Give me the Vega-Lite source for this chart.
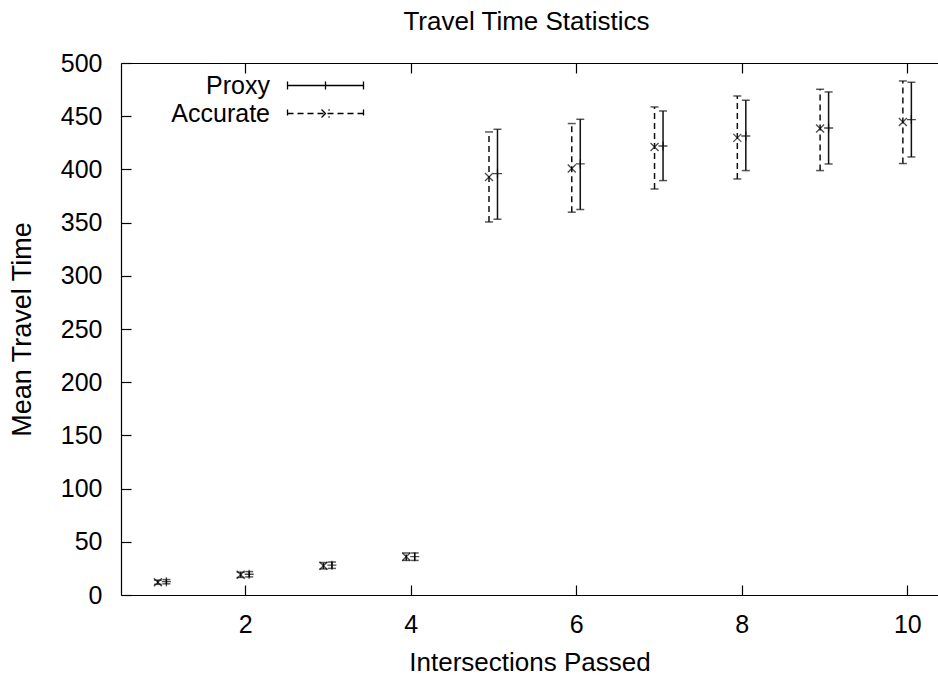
{
  "$schema": "https://vega.github.io/schema/vega-lite/v6.json",
  "width": 817,
  "height": 532,
  "autosize": "none",
  "padding": {"left": 121, "top": 63, "right": 0, "bottom": 82},
  "background": "white",
  "title": {"text": "Travel Time Statistics", "font": "Liberation Sans", "fontSize": 26, "fontWeight": "normal", "color": "black", "offset": 16, "dx": -3},
  "config": {
    "view": {"stroke": null},
    "axis": {
      "labelFont": "Liberation Sans", "labelFontSize": 25, "labelColor": "black",
      "titleFont": "Liberation Sans", "titleFontSize": 26, "titleFontWeight": "normal", "titleColor": "black",
      "domainColor": "black", "domainWidth": 1.2, "tickColor": "black", "tickWidth": 1.2, "tickSize": -10, "grid": false
    },
    "axisX": {"tickCount": 5, "labelPadding": 27, "titlePadding": 12},
    "axisY": {"tickCount": 10, "labelPadding": 29, "titlePadding": 24, "titleFontSize": 27}
  },
  "resolve": {"axis": {"x": "independent"}},
  "data": {"values": [
    {"n": 1, "series": "Accurate", "mean": 12, "lo": 10, "hi": 14},
    {"n": 2, "series": "Accurate", "mean": 19, "lo": 16.5, "hi": 21.5},
    {"n": 3, "series": "Accurate", "mean": 27.5, "lo": 24.5, "hi": 30.5},
    {"n": 4, "series": "Accurate", "mean": 36, "lo": 32.5, "hi": 39.5},
    {"n": 5, "series": "Accurate", "mean": 392.9, "lo": 350.6, "hi": 435.2},
    {"n": 6, "series": "Accurate", "mean": 400.8, "lo": 359.8, "hi": 443.1},
    {"n": 7, "series": "Accurate", "mean": 421.1, "lo": 381.6, "hi": 458.7},
    {"n": 8, "series": "Accurate", "mean": 429.6, "lo": 391, "hi": 469},
    {"n": 9, "series": "Accurate", "mean": 438.4, "lo": 398.9, "hi": 475.3},
    {"n": 10, "series": "Accurate", "mean": 444.6, "lo": 405.5, "hi": 483.1},
    {"n": 1, "series": "Proxy", "mean": 12.5, "lo": 10.5, "hi": 14.5},
    {"n": 2, "series": "Proxy", "mean": 19.5, "lo": 17, "hi": 22},
    {"n": 3, "series": "Proxy", "mean": 28, "lo": 25, "hi": 31},
    {"n": 4, "series": "Proxy", "mean": 36, "lo": 32.5, "hi": 39.5},
    {"n": 5, "series": "Proxy", "mean": 396.1, "lo": 353.2, "hi": 437.7},
    {"n": 6, "series": "Proxy", "mean": 405.1, "lo": 362.3, "hi": 447.1},
    {"n": 7, "series": "Proxy", "mean": 422, "lo": 389.5, "hi": 454.9},
    {"n": 8, "series": "Proxy", "mean": 431.4, "lo": 398.9, "hi": 465},
    {"n": 9, "series": "Proxy", "mean": 438.9, "lo": 405.1, "hi": 472.8},
    {"n": 10, "series": "Proxy", "mean": 446.8, "lo": 411.7, "hi": 481.9}
  ]},
  "layer": [
    {
      "transform": [{"filter": "datum.series === 'Accurate'"}],
      "mark": {"type": "rule", "xOffset": -4.5, "strokeWidth": 1.5, "color": "#111"},
      "encoding": {
        "x": {"field": "n", "type": "quantitative", "title": "Intersections Passed", "scale": {"domain": [0.5, 10.37], "nice": false, "zero": false}},
        "y": {"field": "lo", "type": "quantitative", "title": "Mean Travel Time", "scale": {"domain": [0, 500], "nice": false}},
        "y2": {"field": "hi"},
        "strokeDash": {"field": "series", "type": "nominal", "scale": {"domain": ["Proxy", "Accurate"], "range": [[1, 0], [6, 4]]},
          "legend": {"orient": "none", "legendX": 124, "legendY": 10, "title": null, "labelAlign": "right", "labelOffset": 0,
            "labelFont": "Liberation Sans", "labelFontSize": 25, "labelColor": "black", "symbolSize": 100, "rowPadding": 2,
            "symbolStrokeWidth": 1.3, "symbolStrokeColor": "black", "symbolFillColor": "transparent", "symbolType": "M6,0L21.2,0",
            "encode": {"symbols": {"update": {"shape": {"signal": "datum.value === 'Proxy' ? 'M6,0L21.2,0M6,-0.8L6,0.8M21.2,-0.8L21.2,0.8M13.6,-0.8L13.6,0.8' : 'M6,0L21.2,0M6,-0.8L6,0.8M21.2,-0.8L21.2,0.8M12.8,-0.8L14.4,0.8M12.8,0.8L14.4,-0.8'"}, "stroke": {"value": "black"}, "fill": {"value": "transparent"}}}}}}
      }
    },
    {
      "transform": [{"filter": "datum.series === 'Proxy'"}],
      "mark": {"type": "rule", "xOffset": 4, "strokeWidth": 1.5, "color": "#111"},
      "encoding": {
        "x": {"field": "n", "type": "quantitative", "axis": null},
        "y": {"field": "lo", "type": "quantitative", "title": "Mean Travel Time"},
        "y2": {"field": "hi"},
        "strokeDash": {"field": "series", "type": "nominal"}
      }
    },
    {
      "transform": [{"filter": "datum.series === 'Accurate'"}],
      "mark": {"type": "tick", "orient": "horizontal", "xOffset": -4.5, "size": 8, "thickness": 1.5, "color": "#111"},
      "encoding": {
        "x": {"field": "n", "type": "quantitative", "axis": null},
        "y": {"field": "lo", "type": "quantitative", "title": "Mean Travel Time"}
      }
    },
    {
      "transform": [{"filter": "datum.series === 'Accurate'"}],
      "mark": {"type": "tick", "orient": "horizontal", "xOffset": -4.5, "size": 8, "thickness": 1.5, "color": "#111"},
      "encoding": {
        "x": {"field": "n", "type": "quantitative", "axis": null},
        "y": {"field": "hi", "type": "quantitative", "title": "Mean Travel Time"}
      }
    },
    {
      "transform": [{"filter": "datum.series === 'Proxy'"}],
      "mark": {"type": "tick", "orient": "horizontal", "xOffset": 4, "size": 8, "thickness": 1.5, "color": "#111"},
      "encoding": {
        "x": {"field": "n", "type": "quantitative", "axis": null},
        "y": {"field": "lo", "type": "quantitative", "title": "Mean Travel Time"}
      }
    },
    {
      "transform": [{"filter": "datum.series === 'Proxy'"}],
      "mark": {"type": "tick", "orient": "horizontal", "xOffset": 4, "size": 8, "thickness": 1.5, "color": "#111"},
      "encoding": {
        "x": {"field": "n", "type": "quantitative", "axis": null},
        "y": {"field": "hi", "type": "quantitative", "title": "Mean Travel Time"}
      }
    },
    {
      "transform": [{"filter": "datum.series === 'Accurate'"}],
      "mark": {"type": "point", "shape": "M-1,-1L1,1M-1,1L1,-1", "filled": false, "size": 64, "stroke": "black", "strokeWidth": 1.3, "xOffset": -4.5},
      "encoding": {
        "x": {"field": "n", "type": "quantitative", "axis": null},
        "y": {"field": "mean", "type": "quantitative", "title": "Mean Travel Time"}
      }
    },
    {
      "transform": [{"filter": "datum.series === 'Proxy'"}],
      "mark": {"type": "point", "shape": "M-1,0L1,0M0,-1L0,1", "filled": false, "size": 81, "stroke": "black", "strokeWidth": 1.3, "xOffset": 4},
      "encoding": {
        "x": {"field": "n", "type": "quantitative", "axis": {"orient": "top", "labels": false, "title": null}},
        "y": {"field": "mean", "type": "quantitative", "title": "Mean Travel Time"}
      }
    }
  ]
}
